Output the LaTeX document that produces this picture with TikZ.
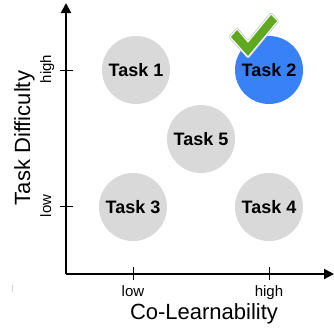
\documentclass[tikz,border=0pt]{standalone}
\usepackage{fontspec}
\setmainfont{Liberation Sans}
\usetikzlibrary{arrows.meta}
\definecolor{taskgray}{HTML}{D9D9D9}
\definecolor{taskblue}{HTML}{3981F7}
\definecolor{checkgreen}{HTML}{5FA81F}
\tikzset{
  task/.style={circle, fill=taskgray, minimum size=68pt, inner sep=0pt,
    font=\fontsize{18}{18}\selectfont\bfseries},
  axisline/.style={line width=2pt, -{Triangle[length=10pt,width=10pt]}},
  tickmark/.style={line width=0.8pt},
  ticklabel/.style={font=\fontsize{15}{15}\selectfont, inner sep=0pt},
  axistitle/.style={font=\fontsize{22}{22}\selectfont, inner sep=0pt},
}
\begin{document}
\begin{tikzpicture}[x=1pt,y=-1pt]
\useasboundingbox (0,0) rectangle (334,327);
% axes
\coordinate (o) at (66,274);
\coordinate (ytip) at (66,3);
\coordinate (xtip) at (334,274);
\draw[axisline] (o) -- (ytip);
\draw[axisline] (o) -- (xtip);
% ticks
\coordinate (yh1) at (60,70); \coordinate (yh2) at (73,70);
\coordinate (yl1) at (60,206); \coordinate (yl2) at (73,206);
\coordinate (xl1) at (133,267); \coordinate (xl2) at (133,280);
\coordinate (xh1) at (269,267); \coordinate (xh2) at (269,280);
\draw[tickmark] (yh1) -- (yh2);
\draw[tickmark] (yl1) -- (yl2);
\draw[tickmark] (xl1) -- (xl2);
\draw[tickmark] (xh1) -- (xh2);
% tick labels
\node[ticklabel, rotate=90, anchor=base] (lyh) at (51,69) {high};
\node[ticklabel, rotate=90, anchor=base] (lyl) at (51,206) {low};
\node[ticklabel, anchor=base] (lxl) at (133,296) {low};
\node[ticklabel, anchor=base] (lxh) at (269,296) {high};
% axis titles
\node[axistitle, rotate=90, anchor=base] (ty) at (30,138) {Task Difficulty};
\node[axistitle, anchor=base] (tx) at (204,319) {Co-Learnability};
% faint mark
\coordinate (m1) at (12,285); \coordinate (m2) at (12,292);
\draw[gray!35, line width=0.8pt] (m1) -- (m2);
% tasks
\node[task] (t1) at (136,70) {Task 1};
\node[task, fill=taskblue] (t2) at (269,70) {Task 2};
\node[task] (t5) at (201,139) {Task 5};
\node[task] (t3) at (133,207) {Task 3};
\node[task] (t4) at (269,207) {Task 4};
% check mark
\def\checkpath{(231,37) -- (237,30) -- (248,43) -- (271,15) -- (277,21) -- (248,56) -- cycle}
\draw[line width=4pt, gray!45, line join=round] \checkpath;
\draw[line width=2.4pt, white, line join=round] \checkpath;
\fill[checkgreen] \checkpath;
\end{tikzpicture}
\end{document}
